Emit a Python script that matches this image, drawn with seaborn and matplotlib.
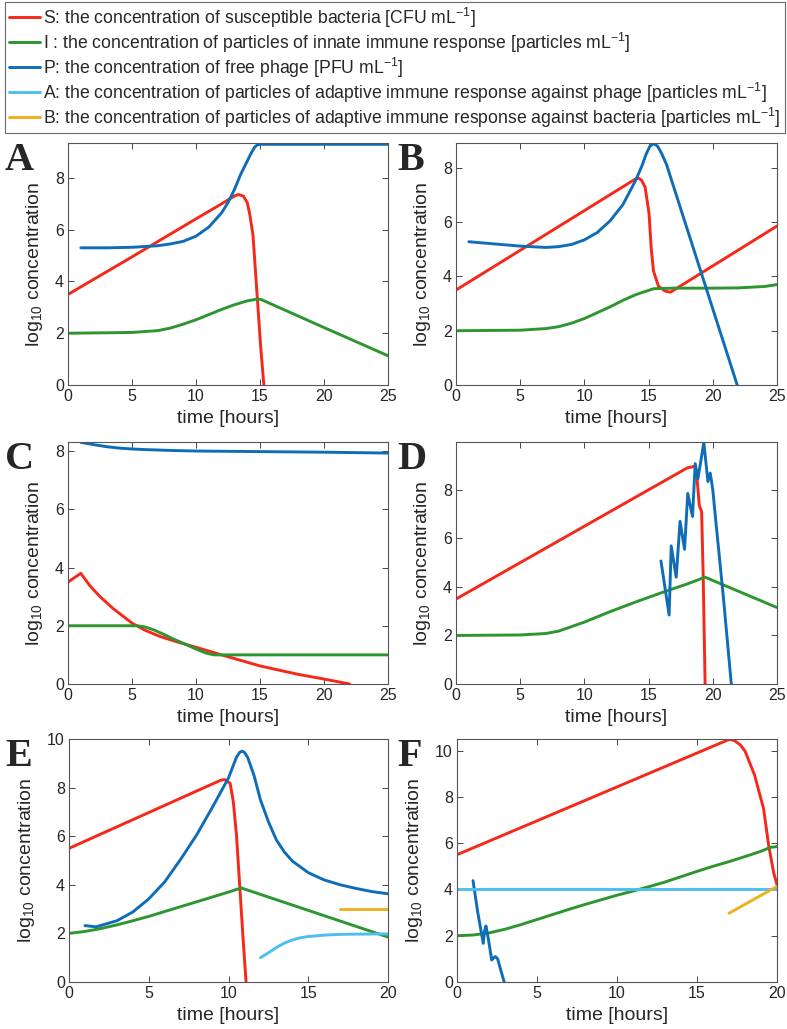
import numpy as np
import pandas as pd
import matplotlib
matplotlib.use('Agg')
import seaborn as sns
import matplotlib.pyplot as plt
from matplotlib.lines import Line2D

# ---- data (time in hours, log10 concentration) ----
A_S_t = [0, 5, 10, 12, 13, 13.3, 13.7, 14.0, 14.2, 14.45, 14.8, 15.05, 15.3]
A_S_y = [3.5, 4.95, 6.42, 7.0, 7.3, 7.36, 7.3, 7.05, 6.6, 5.8, 3.3, 1.5, 0]
A_I_t = [0, 5, 7, 8, 9, 10, 11, 12, 13, 14, 14.8, 15.1, 20, 25]
A_I_y = [2.0, 2.03, 2.1, 2.2, 2.35, 2.52, 2.72, 2.92, 3.1, 3.25, 3.32, 3.3, 2.22, 1.13]
A_P_t = [1, 3, 5, 7, 8, 9, 10, 11, 12, 12.5, 13, 13.5, 14, 14.3, 14.6, 14.8, 15, 25]
A_P_y = [5.3, 5.3, 5.32, 5.38, 5.45, 5.55, 5.75, 6.1, 6.65, 7.05, 7.55, 8.15, 8.65,
         8.95, 9.2, 9.28, 9.3, 9.3]

B_S_t = [0, 14.0, 14.2, 14.45, 14.73, 15.04, 15.2, 15.38, 15.77, 16.3, 16.7, 25]
B_S_y = [3.5, 7.6, 7.63, 7.55, 7.29, 6.3, 5.06, 4.2, 3.64, 3.46, 3.42, 5.86]
B_I_t = [0, 5, 7, 8, 9, 10, 12, 13, 14, 15.4, 17, 20, 22, 24, 25]
B_I_y = [2.0, 2.02, 2.08, 2.15, 2.28, 2.45, 2.88, 3.12, 3.33, 3.55, 3.57, 3.57, 3.58, 3.63, 3.7]
B_P_t = [1, 3, 5, 7, 8, 9, 10, 11, 12, 13, 14, 14.5, 14.8, 15.1, 15.4, 15.7, 16.0, 16.4, 21.9]
B_P_y = [5.28, 5.2, 5.12, 5.07, 5.1, 5.18, 5.35, 5.62, 6.05, 6.65, 7.55, 8.1, 8.5, 8.8,
         8.9, 8.8, 8.55, 8.12, 0]

C_S_t = [0, 1, 1.7, 2.5, 3.5, 5, 6, 7.2, 8.5, 10, 12, 15, 18, 20, 22]
C_S_y = [3.5, 3.8, 3.38, 3.0, 2.6, 2.09, 1.85, 1.63, 1.45, 1.26, 1.0, 0.62, 0.33, 0.17, 0]
C_I_t = [0, 5.4, 6.0, 6.7, 7.5, 8.25, 9, 10, 10.8, 11.4, 25]
C_I_y = [2.0, 2.0, 1.96, 1.86, 1.7, 1.54, 1.4, 1.2, 1.06, 1.0, 1.0]
C_P_t = [1, 2, 3, 4, 5, 6, 8, 10, 15, 20, 25]
C_P_y = [8.3, 8.22, 8.15, 8.1, 8.07, 8.05, 8.02, 8.0, 7.98, 7.96, 7.93]

D_S_t = [0, 18, 18.5, 18.65, 18.8, 18.95, 19.13, 19.25, 19.4]
D_S_y = [3.5, 8.9, 8.96, 8.95, 8.3, 7.35, 7.1, 4.5, 0]
D_I_t = [0, 5, 7, 8, 10, 12, 14, 16, 18, 19.4, 22, 25]
D_I_y = [2.0, 2.02, 2.08, 2.18, 2.55, 2.98, 3.38, 3.76, 4.12, 4.4, 3.82, 3.15]
D_P_t = [15.96, 16.6, 16.76, 17.15, 17.45, 17.8, 18.05, 18.42, 18.63, 18.84,
         19.3, 19.62, 19.8, 20.0, 20.2, 20.84, 21.44]
D_P_y = [5.07, 2.84, 5.69, 4.4, 6.7, 5.55, 7.85, 6.9, 9.08, 8.45,
         9.95, 8.34, 8.69, 8.0, 6.9, 3.48, 0]

E_S_t = [0, 9.5, 9.75, 10.1, 10.3, 10.5, 10.7, 10.9, 11.1]
E_S_y = [5.5, 8.3, 8.33, 8.18, 7.43, 6.05, 3.99, 1.93, 0]
E_I_t = [0, 1, 2, 3, 4, 5, 6, 7, 8, 9, 10, 10.8, 20]
E_I_y = [2.0, 2.08, 2.2, 2.35, 2.52, 2.7, 2.9, 3.1, 3.3, 3.5, 3.7, 3.87, 1.85]
E_P_t = [1, 1.7, 3, 4, 5, 6, 7, 8, 9, 10, 10.5, 10.7, 10.85, 11.0, 11.2, 11.6, 12,
         12.5, 13, 13.5, 14, 15, 16, 17, 18, 19, 20]
E_P_y = [2.32, 2.27, 2.52, 2.88, 3.42, 4.12, 5.05, 6.05, 7.2, 8.4, 9.25, 9.45, 9.5,
         9.45, 9.25, 8.5, 7.5, 6.6, 5.85, 5.35, 4.98, 4.5, 4.2, 4.0, 3.85, 3.72, 3.63]
E_A_t = [12, 12.5, 13, 13.5, 14, 14.5, 15, 16, 17, 18, 20]
E_A_y = [1.0, 1.2, 1.42, 1.6, 1.73, 1.82, 1.87, 1.93, 1.96, 1.97, 1.98]
E_B_t = [17, 20]
E_B_y = [3.0, 3.0]

F_S_t = [0, 17, 17.3, 17.7, 18, 18.6, 19.16, 19.48, 19.8, 20]
F_S_y = [5.5, 10.48, 10.45, 10.25, 9.98, 8.94, 7.49, 5.9, 4.7, 4.2]
F_I_t = [0, 1, 2, 3, 4, 5, 6, 7, 8, 9, 10, 11, 12, 13, 14, 15, 16, 17, 18, 19, 19.6, 20]
F_I_y = [2.0, 2.03, 2.12, 2.28, 2.48, 2.7, 2.92, 3.14, 3.35, 3.55, 3.75, 3.93, 4.12,
         4.32, 4.55, 4.78, 5.0, 5.2, 5.42, 5.65, 5.82, 5.85]
F_P_t = [1.0, 1.3, 1.64, 1.72, 1.81, 1.95, 2.17, 2.3, 2.4, 2.54, 2.7, 2.95]
F_P_y = [4.38, 3.0, 1.67, 2.2, 2.42, 1.9, 0.95, 1.05, 1.1, 1.0, 0.6, 0]
F_A_t = [0, 20]
F_A_y = [4.0, 4.0]
F_B_t = [17, 20]
F_B_y = [2.97, 4.13]

labels = {
    'S': 'S: the concentration of susceptible bacteria [CFU mL$^{-1}$]',
    'I': 'I : the concentration of particles of innate immune response [particles mL$^{-1}$]',
    'P': 'P: the concentration of free phage [PFU mL$^{-1}$]',
    'A': 'A: the concentration of particles of adaptive immune response against phage [particles mL$^{-1}$]',
    'B': 'B: the concentration of particles of adaptive immune response against bacteria [particles mL$^{-1}$]',
}
palette = {'S': '#F5281A', 'I': '#2E952F', 'P': '#0F6DB8', 'A': '#4DBEEE', 'B': '#EDB120'}

panels = {
    'A': {'S': (A_S_t, A_S_y), 'I': (A_I_t, A_I_y), 'P': (A_P_t, A_P_y)},
    'B': {'S': (B_S_t, B_S_y), 'I': (B_I_t, B_I_y), 'P': (B_P_t, B_P_y)},
    'C': {'S': (C_S_t, C_S_y), 'I': (C_I_t, C_I_y), 'P': (C_P_t, C_P_y)},
    'D': {'S': (D_S_t, D_S_y), 'I': (D_I_t, D_I_y), 'P': (D_P_t, D_P_y)},
    'E': {'S': (E_S_t, E_S_y), 'I': (E_I_t, E_I_y), 'P': (E_P_t, E_P_y),
          'A': (E_A_t, E_A_y), 'B': (E_B_t, E_B_y)},
    'F': {'S': (F_S_t, F_S_y), 'I': (F_I_t, F_I_y), 'P': (F_P_t, F_P_y),
          'A': (F_A_t, F_A_y), 'B': (F_B_t, F_B_y)},
}
xmax = {'A': 25, 'B': 25, 'C': 25, 'D': 25, 'E': 20, 'F': 20}
ymax = {'A': 9.35, 'B': 8.92, 'C': 8.31, 'D': 9.97, 'E': 10, 'F': 10.5}

# axes boxes in pixels: x0, x1, y0 (top), y1 (bottom)
boxes = {'A': (68, 388, 143, 385), 'B': (456, 777, 143, 385),
         'C': (68, 388, 442, 684), 'D': (456, 777, 442, 684),
         'E': (69, 388, 739, 982), 'F': (457, 777, 739, 982)}

sns.set_style('ticks')
plt.rcParams['font.family'] = ['Liberation Sans', 'DejaVu Sans']
plt.rcParams['mathtext.default'] = 'regular'

W, H = 787, 1029
fig = plt.figure(figsize=(W / 100, H / 100), dpi=100)

for name, series in panels.items():
    x0, x1, y0, y1 = boxes[name]
    ax = fig.add_axes([x0 / W, 1 - y1 / H, (x1 - x0) / W, (y1 - y0) / H])
    df = pd.concat([pd.DataFrame({'t': t, 'y': y, 'var': k})
                    for k, (t, y) in series.items()], ignore_index=True)
    sns.lineplot(data=df, x='t', y='y', hue='var', palette=palette,
                 estimator=None, sort=False, lw=2.1, legend=False, ax=ax)
    ax.set_xlim(0, xmax[name])
    ax.set_ylim(0, ymax[name])
    ax.set_xticks(np.arange(0, xmax[name] + 1, 5))
    ax.set_yticks(np.arange(0, ymax[name] + 0.01, 2))
    ax.tick_params(direction='in', top=True, right=True, labelsize=11.5,
                   length=4, width=0.7, color='#444444', pad=3)
    for sp in ax.spines.values():
        sp.set_linewidth(0.8)
        sp.set_color('#555555')
    ax.set_xlabel('time [hours]', fontsize=14, labelpad=4)
    ax.set_ylabel('log$_{10}$ concentration', fontsize=14, labelpad=7)
    lx = 5 if x0 < 200 else 397
    fig.text(lx / W, 1 - (y0 + 27) / H, name, fontsize=29, weight='bold',
             family='Liberation Serif', va='baseline', ha='left')

handles = [Line2D([], [], color=palette[k], lw=2.1) for k in labels]
leg = fig.legend(handles, list(labels.values()), loc='upper left',
                 bbox_to_anchor=(5 / W, 1 - 133 / H, 780 / W, 131 / H), mode='expand',
                 fontsize=12.7, frameon=True, fancybox=False, edgecolor='#444444',
                 handlelength=1.8, handletextpad=0.15, labelspacing=0.05,
                 borderpad=0.2, borderaxespad=0)
leg.get_frame().set_linewidth(0.8)

fig.savefig('out.png', dpi=100)
